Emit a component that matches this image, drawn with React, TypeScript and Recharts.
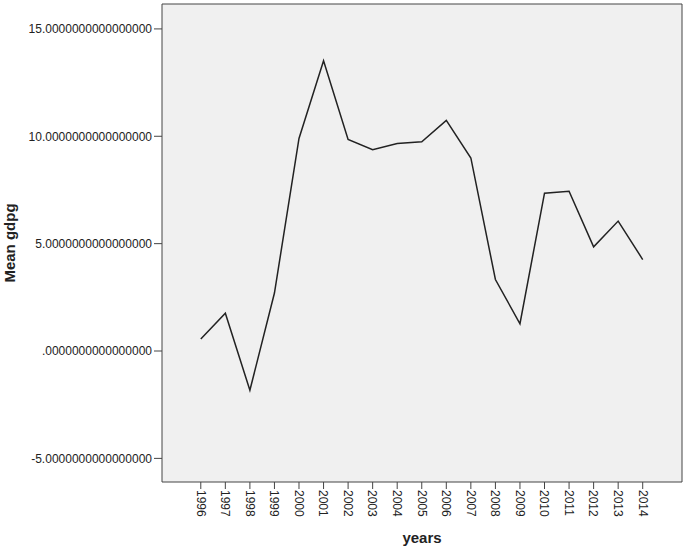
import {
  LineChart,
  Line,
  XAxis,
  YAxis,
  CartesianGrid,
  ReferenceLine,
} from "recharts";

const years = [
  1996, 1997, 1998, 1999, 2000, 2001, 2002, 2003, 2004, 2005, 2006, 2007, 2008,
  2009, 2010, 2011, 2012, 2013, 2014,
];

const meanGdpg = [
  0.56, 1.76, -1.83, 2.7, 9.9, 13.52, 9.85, 9.37, 9.66, 9.74, 10.74, 8.99, 3.33,
  1.27, 7.35, 7.44, 4.85, 6.05, 4.26,
];

const yTicks = [-5, 0, 5, 10, 15];
const xDomain = [1994.42, 2015.6];
const yDomain = [-6.1, 16.16];

const data = years.map((year, i) => ({ year, gdpg: meanGdpg[i] }));

const fmtY = (v: number) => {
  const s = v.toFixed(16);
  return v === 0 ? s.slice(1) : s;
};

const YearTick = (props: any) => {
  const { x, y, payload } = props;
  return (
    <text
      x={x}
      y={y}
      dy="0.35em"
      transform={`rotate(90 ${x} ${y})`}
      textAnchor="start"
      fontSize={12}
      fill="#222"
      fontFamily="'Liberation Sans', Arial, sans-serif"
    >
      {payload.value}
    </text>
  );
};

const App = () => {
  return (
    <div style={{ position: "absolute", left: 0, top: 0, background: "#fff" }}>
      <LineChart
        width={685}
        height={549}
        data={data}
        margin={{ top: 4, right: 3, bottom: 0, left: 0 }}
        style={{ fontFamily: "'Liberation Sans', Arial, sans-serif" }}
      >
        <CartesianGrid
          fill="#f0f0f0"
          horizontal={false}
          vertical={false}
          stroke="none"
        />
        <XAxis
          dataKey="year"
          type="number"
          domain={xDomain}
          allowDataOverflow
          ticks={years}
          interval={0}
          height={67}
          tickSize={7}
          tickMargin={1}
          tick={<YearTick />}
          stroke="#444"
          label={{
            value: "years",
            position: "insideBottom",
            offset: 6,
            style: { fontWeight: "bold", fontSize: 15, fill: "#222" },
          }}
        />
        <YAxis
          type="number"
          domain={yDomain}
          allowDataOverflow
          ticks={yTicks}
          interval={0}
          width={162}
          tickSize={8}
          tickMargin={2}
          tickFormatter={fmtY}
          tick={{ fontSize: 12, fill: "#222" }}
          stroke="#444"
          label={{
            value: "Mean gdpg",
            angle: -90,
            position: "insideLeft",
            offset: 10,
            style: {
              textAnchor: "middle",
              fontWeight: "bold",
              fontSize: 15,
              fill: "#222",
            },
          }}
        />
        <ReferenceLine y={yDomain[1]} stroke="#444" />
        <ReferenceLine x={xDomain[1]} stroke="#444" />
        <Line
          type="linear"
          dataKey="gdpg"
          stroke="#222"
          strokeWidth={1.5}
          dot={false}
          isAnimationActive={false}
        />
      </LineChart>
    </div>
  );
};

export default App;
